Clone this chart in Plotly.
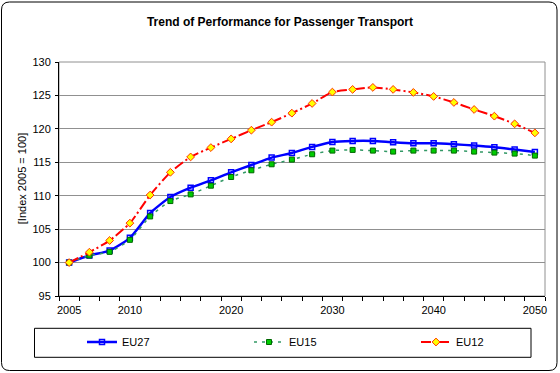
import plotly.graph_objects as go

# ---- data ----
years = ["2005", "2006", "2008", "2010", "2012", "2014", "2016", "2018", "2020",
         "2022", "2024", "2026", "2028", "2030", "2032", "2034", "2036", "2038",
         "2040", "2042", "2044", "2046", "2048", "2050"]
shown_labels = ["2005", "2010", "2020", "2030", "2040", "2050"]
eu27 = [100.0, 101.05, 101.8, 103.7, 107.4, 109.8, 111.2, 112.3, 113.5,
        114.6, 115.7, 116.4, 117.3, 118.05, 118.2, 118.2, 118.0, 117.85,
        117.85, 117.7, 117.5, 117.25, 116.9, 116.55]
eu15 = [100.0, 101.05, 101.6, 103.4, 106.9, 109.2, 110.2, 111.5, 112.8,
        113.8, 114.7, 115.4, 116.2, 116.75, 116.85, 116.75, 116.6, 116.75,
        116.75, 116.75, 116.6, 116.45, 116.3, 116.0]
eu12 = [100.0, 101.55, 103.3, 105.9, 110.1, 113.5, 115.8, 117.2, 118.5,
        119.8, 121.0, 122.35, 123.8, 125.5, 125.9, 126.2, 125.9, 125.45,
        124.85, 123.95, 122.9, 121.9, 120.75, 119.4]

FONT = "Liberation Sans, Arial, sans-serif"
W, H = 560, 373
ML, MR, MT, MB = 59, 15, 62, 77
PW, PH = W - ML - MR, H - MT - MB


def px(x):
    return (x - ML) / PW


def py(y):
    return (H - MB - y) / PH


fig = go.Figure()
fig.add_trace(go.Scatter(
    x=years, y=eu27, name="EU27", mode="lines+markers", legend="legend",
    line=dict(color="#0000FF", width=2.5, shape="spline", smoothing=0.6),
    marker=dict(symbol="square-open", size=5, color="#0000FF",
                line=dict(color="#0000FF", width=1.5))))
fig.add_trace(go.Scatter(
    x=years, y=eu15, name="EU15", mode="lines+markers", legend="legend2",
    line=dict(color="#339966", width=1.5, dash="3px,5px", shape="spline", smoothing=0.6),
    marker=dict(symbol="square", size=5, color="#00CC00",
                line=dict(color="#006600", width=1))))
fig.add_trace(go.Scatter(
    x=years, y=eu12, name="EU12", mode="lines+markers", legend="legend3",
    line=dict(color="#FF0000", width=2, dash="10px,3px,2px,3px", shape="spline", smoothing=0.6),
    marker=dict(symbol="diamond", size=6, color="#FFFF00",
                line=dict(color="#FF3300", width=1))))

ticktext = [y if y in shown_labels else "" for y in years]

# outer rounded frame
x0, x1, y0, y1, r = 1.5, 557, 2, 370.5, 8
frame = (f"M {px(x0 + r)},{py(y0)} L {px(x1 - r)},{py(y0)} "
         f"Q {px(x1)},{py(y0)} {px(x1)},{py(y0 + r)} "
         f"L {px(x1)},{py(y1 - r)} Q {px(x1)},{py(y1)} {px(x1 - r)},{py(y1)} "
         f"L {px(x0 + r)},{py(y1)} Q {px(x0)},{py(y1)} {px(x0)},{py(y1 - r)} "
         f"L {px(x0)},{py(y0 + r)} Q {px(x0)},{py(y0)} {px(x0 + r)},{py(y0)} Z")

shapes = [
    dict(type="path", xref="paper", yref="paper", path=frame,
         line=dict(color="black", width=1)),
    dict(type="rect", xref="paper", yref="paper", x0=0, x1=1, y0=0, y1=1,
         line=dict(color="#909090", width=1), layer="below"),
    dict(type="rect", xref="paper", yref="paper",
         x0=px(34.5), x1=px(531), y0=py(357.3), y1=py(328.3),
         line=dict(color="black", width=1)),
]


def leg(xpix):
    return dict(orientation="h", x=px(xpix), xanchor="left", y=py(342), yanchor="middle",
                bgcolor="rgba(0,0,0,0)", borderwidth=0,
                font=dict(family=FONT, size=11), itemwidth=30)


fig.update_layout(
    width=W, height=H,
    margin=dict(l=ML, r=MR, t=MT, b=MB, pad=0),
    paper_bgcolor="white", plot_bgcolor="white",
    font=dict(family=FONT, size=11, color="black"),
    title=dict(text="<b>Trend of Performance for Passenger Transport</b>",
               x=0.5, xref="container", xanchor="center",
               y=1 - 22 / H, yref="container", yanchor="middle",
               font=dict(family=FONT, size=12, color="black")),
    xaxis=dict(type="category", categoryorder="array", categoryarray=years,
               tickmode="array", tickvals=years, ticktext=ticktext, tickangle=0,
               tickson="boundaries", ticks="outside", ticklen=4, tickcolor="black",
               ticklabelstandoff=4,
               showgrid=False, showline=True, linecolor="black", linewidth=1,
               range=[-0.5, len(years) - 0.5], zeroline=False,
               tickfont=dict(family=FONT, size=11)),
    yaxis=dict(range=[95, 130], dtick=5, tick0=95, ticks="outside", ticklen=3,
               tickcolor="black", showgrid=True, gridcolor="#909090", gridwidth=1,
               showline=True, linecolor="black", linewidth=1, zeroline=False,
               ticklabelstandoff=2,
               tickfont=dict(family=FONT, size=11)),
    showlegend=True,
    legend=leg(82),
    legend2=leg(249),
    legend3=leg(416),
    shapes=shapes,
    annotations=[dict(text="[Index 2005 = 100]", textangle=-90, xref="paper", yref="paper",
                      x=px(21.7), y=py(178.5), xanchor="center", yanchor="middle",
                      showarrow=False, font=dict(family=FONT, size=11))],
)

fig.write_html("out.html", config={"displayModeBar": False},
               post_script="document.body.style.margin='0';document.body.style.overflow='hidden';")
